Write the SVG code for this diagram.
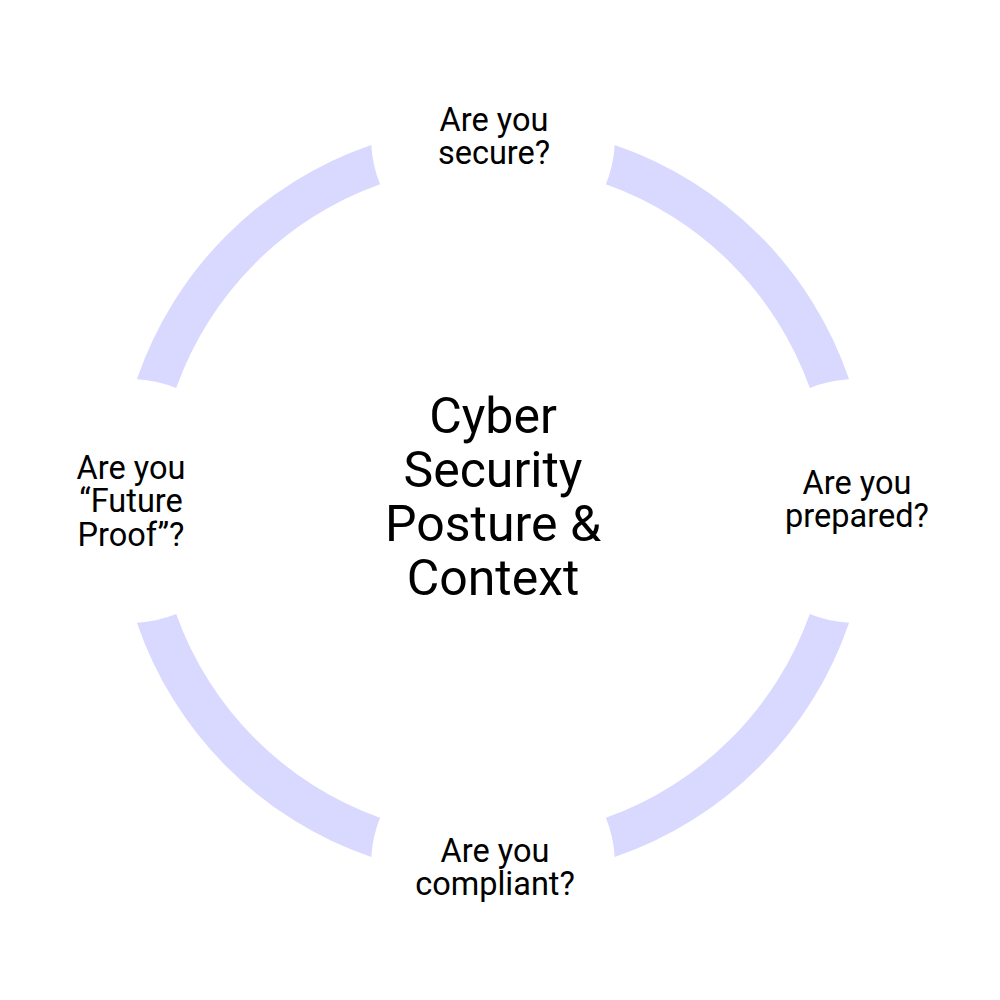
<svg xmlns="http://www.w3.org/2000/svg" xmlns:xlink="http://www.w3.org/1999/xlink" width="1000" height="1000" viewBox="0 0 1000 1000">
  <style>
    .seg { fill: #D9D9FF; stroke: none; }
    .lbl { font-family: Roboto, "Liberation Sans", sans-serif; font-size: 32.5px; fill: #000000; text-anchor: middle; }
    .ctr { font-family: Roboto, "Liberation Sans", sans-serif; font-size: 50px; fill: #000000; text-anchor: middle; }
  </style>
  <defs>
    <path id="arcseg" d="M371.3,144.9 A376.3,376.3 0 0 0 136.9,379.3 A122,122 0 0 1 176.2,388.1 A336.3,336.3 0 0 1 380.1,184.2 A122,122 0 0 1 371.3,144.9 Z"/>
  </defs>
  <rect width="1000" height="1000" fill="#FFFFFF"/>
  <g id="connectors">
    <use xlink:href="#arcseg" class="seg"/>
    <use xlink:href="#arcseg" class="seg" transform="rotate(90 493 501)"/>
    <use xlink:href="#arcseg" class="seg" transform="rotate(180 493 501)"/>
    <use xlink:href="#arcseg" class="seg" transform="rotate(270 493 501)"/>
  </g>
  <g id="center">
    <text class="ctr" x="493" y="433">Cyber</text>
    <text class="ctr" x="493" y="487">Security</text>
    <text class="ctr" x="493" y="541">Posture &amp;</text>
    <text class="ctr" x="493" y="595">Context</text>
  </g>
  <g id="secure">
    <text class="lbl" x="494" y="131">Are you</text>
    <text class="lbl" x="494" y="164">secure?</text>
  </g>
  <g id="prepared">
    <text class="lbl" x="857" y="494">Are you</text>
    <text class="lbl" x="857" y="527">prepared?</text>
  </g>
  <g id="compliant">
    <text class="lbl" x="495" y="862">Are you</text>
    <text class="lbl" x="495" y="895">compliant?</text>
  </g>
  <g id="futureproof">
    <text class="lbl" x="131" y="479">Are you</text>
    <text class="lbl" x="131" y="512">“Future</text>
    <text class="lbl" x="131" y="546">Proof”?</text>
  </g>
</svg>
